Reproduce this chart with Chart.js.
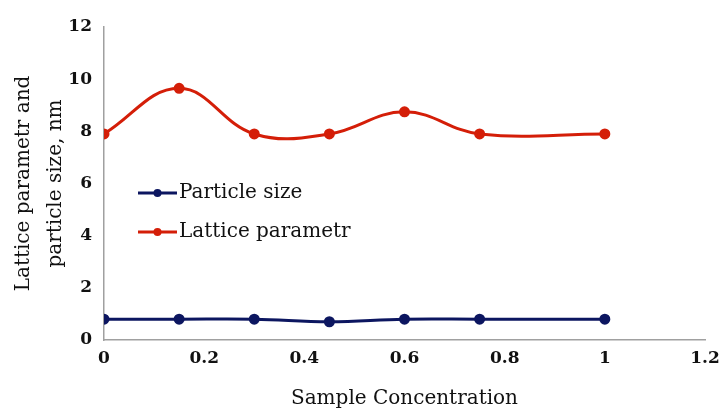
<!DOCTYPE html>
<html>
<head>
<meta charset="utf-8">
<script src="https://cdn.jsdelivr.net/npm/chart.js@4/dist/chart.umd.min.js"></script>
<style>
  html, body { margin: 0; padding: 0; background: #fff; }
  #wrap { width: 721px; height: 411px; }
</style>
</head>
<body>
<div id="wrap"><canvas id="chart" width="721" height="411"></canvas></div>
<script>
// sample concentrations and measured values
const concentration = [0, 0.15, 0.3, 0.45, 0.6, 0.75, 1];
const particleSize = [0.8, 0.8, 0.8, 0.7, 0.8, 0.8, 0.8];
const latticeParam = [7.9, 9.65, 7.9, 7.9, 8.75, 7.9, 7.9];
const seriesNames = ['Particle size', 'Lattice parametr'];
const seriesColors = ['#0c1660', '#d41e08'];

const serif = '"DejaVu Serif", serif';
const toPoints = (ys) => concentration.map((x, i) => ({ x, y: ys[i] }));

// legend drawn inside the plot, line + dot like the original
const insideLegend = {
  id: 'insideLegend',
  afterDraw(chart) {
    const { ctx } = chart;
    const x0 = 138, x1 = 177;
    const rows = [193, 232];
    ctx.save();
    chart.data.datasets.forEach((ds, i) => {
      const y = rows[i];
      ctx.strokeStyle = ds.borderColor;
      ctx.lineWidth = 3;
      ctx.beginPath();
      ctx.moveTo(x0, y);
      ctx.lineTo(x1, y);
      ctx.stroke();
      ctx.fillStyle = ds.borderColor;
      ctx.beginPath();
      ctx.arc((x0 + x1) / 2, y, 4, 0, Math.PI * 2);
      ctx.fill();
      ctx.fillStyle = '#111';
      ctx.font = '20px ' + serif;
      ctx.textBaseline = 'middle';
      ctx.fillText(ds.label, x1 + 2, y);
    });
    ctx.restore();
  }
};

new Chart(document.getElementById('chart'), {
  type: 'line',
  data: {
    datasets: [
      {
        label: seriesNames[0],
        data: toPoints(particleSize),
        borderColor: seriesColors[0],
        backgroundColor: seriesColors[0],
        borderWidth: 3,
        pointRadius: 4,
        pointHoverRadius: 4,
        tension: 0.4,
      },
      {
        label: seriesNames[1],
        data: toPoints(latticeParam),
        borderColor: seriesColors[1],
        backgroundColor: seriesColors[1],
        borderWidth: 3,
        pointRadius: 4,
        pointHoverRadius: 4,
        tension: 0.4,
      },
    ],
  },
  options: {
    responsive: false,
    animation: false,
    layout: { padding: { top: 27, right: 16, bottom: 0, left: 8 } },
    plugins: {
      legend: { display: false },
      tooltip: { enabled: false },
    },
    scales: {
      x: {
        type: 'linear',
        min: 0,
        max: 1.2,
        afterFit: (s) => { s.height = 71; s.paddingRight = 0; s.paddingLeft = 0; },
        ticks: {
          stepSize: 0.2,
          color: '#111',
          padding: 8,
          maxRotation: 0,
          font: { family: serif, size: 17, weight: 'bold' },
          callback: (v) => Math.round(v * 10) / 10,
        },
        grid: { display: false, drawTicks: false },
        border: { color: '#a0a0a0', width: 1.5 },
        title: {
          display: true,
          text: 'Sample Concentration',
          color: '#111',
          padding: { top: 20, bottom: 0 },
          font: { family: serif, size: 20 },
        },
      },
      y: {
        min: 0,
        max: 12,
        afterFit: (s) => { s.width = 96; },
        ticks: {
          stepSize: 2,
          color: '#111',
          padding: 12,
          font: { family: serif, size: 17, weight: 'bold' },
        },
        grid: { display: false, drawTicks: false },
        border: { color: '#a0a0a0', width: 1.5 },
        title: {
          display: true,
          text: ['Lattice parametr and', 'particle size, nm'],
          color: '#111',
          padding: { top: 0, bottom: 0 },
          font: { family: serif, size: 20, lineHeight: 1.6 },
        },
      },
    },
  },
  plugins: [insideLegend],
});
</script>
</body>
</html>
